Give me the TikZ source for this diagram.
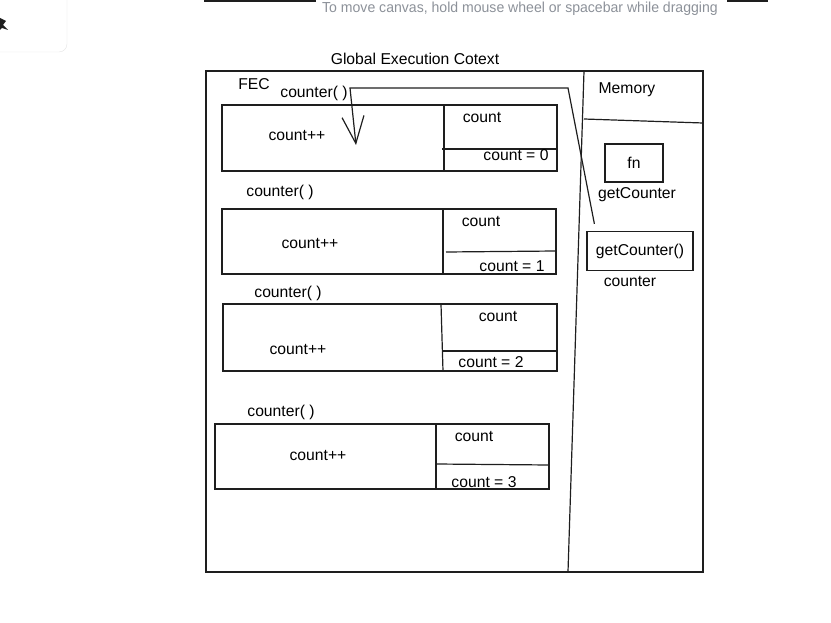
\documentclass[tikz,border=0pt]{standalone}
\usepackage{fontspec}
\setmainfont{Liberation Sans}
\usetikzlibrary{arrows.meta,calc}
\definecolor{ink}{HTML}{1E1E1E}
\definecolor{hintgray}{HTML}{8C9199}
\definecolor{panelline}{HTML}{E4E4E4}

\begin{document}
\begin{tikzpicture}[x=1pt,y=-1pt,every node/.style={font=\fontsize{15.7}{18}\selectfont,inner sep=0pt},
    frame/.style={draw=ink,line width=1.2pt},
    callbox/.style={frame,minimum width=334pt,minimum height=66pt},
    rule/.style={draw=ink,line width=1.2pt}]
  \useasboundingbox (0,0) rectangle (831,623);
  % editor chrome
  \draw[panelline,fill=white,rounded corners=8pt] (-12,-12) rectangle (67,52);
  \fill[ink] (0,18) -- (6,21) -- (3,25) -- (8,30) -- (2,28) -- (0,30) -- cycle;
  \draw[ink,line width=2pt] (204,1) -- (316,1) (727,1) -- (768,1);
  \node[text=hintgray,font=\fontsize{14.5}{16}\selectfont] (hint) at (520,9)
       {\scalebox{0.97}[1]{To move canvas, hold mouse wheel or spacebar while dragging}};

  % global execution context
  \node (gtitle) at (415,59) {Global Execution Cotext};
  \node[frame,minimum width=497pt,minimum height=501pt] (gec) at (454.5,321.5) {};
  \draw[rule] (584,71) -- (568,572);
  \draw[rule] (584,119) -- (703,123);
  \node (mem) at (627,90) {Memory};
  \node[frame,minimum width=58pt,minimum height=38pt] (fnbox) at (634,163) {fn};
  \node (fnname) at (637,195) {getCounter};
  \node[frame,minimum width=106pt,minimum height=39pt] (gc) at (640,251) {getCounter()};
  \node (gcname) at (630,282) {counter};

  % first call
  \node (fec) at (254,84) {FEC};
  \node (callnameA) at (314,93) {counter( )};
  \node[callbox,minimum width=335pt] (boxA) at (389.5,138) {};
  \draw[rule] (444,105) -- (444,171);
  \draw[rule] (442,149) -- (557,149);
  \node (incA) at (297,136) {count++};
  \node (varA) at (482,118) {count};
  \node (valA) at (516,155) {count = 0};

  % second call
  \node (callnameB) at (280,192) {counter( )};
  \node[callbox,minimum height=65pt] (boxB) at (389,241.5) {};
  \draw[rule] (443,209) -- (443,274);
  \draw[rule] (446,252) -- (556,251);
  \node (incB) at (310,244) {count++};
  \node (varB) at (481,222) {count};
  \node (valB) at (512,266) {count = 1};

  % third call
  \node (callnameC) at (288,293) {counter( )};
  \node[callbox,minimum height=67pt] (boxC) at (390,337.5) {};
  \draw[rule] (441,304) -- (443,371);
  \draw[rule] (442,351) -- (557,351);
  \node (incC) at (298,350) {count++};
  \node (varC) at (498,317) {count};
  \node (valC) at (491,362) {count = 2};

  % fourth call
  \node (callnameD) at (281,412) {counter( )};
  \node[callbox,minimum height=65pt] (boxD) at (382,456.5) {};
  \draw[rule] (436,424) -- (436,489);
  \draw[rule] (436,464) -- (549,465);
  \node (incD) at (318,455) {count++};
  \node (varD) at (474,437) {count};
  \node (valD) at (484,482) {count = 3};

  % reference back to the closure
  \coordinate (callA) at (356,145);
  \draw[rule,-{Straight Barb[length=27pt,width=22pt]}] ($(gc.north west)+(8,-7)$)
       -- (568,88) -- (350,88) -- (callA);
\end{tikzpicture}
\end{document}
